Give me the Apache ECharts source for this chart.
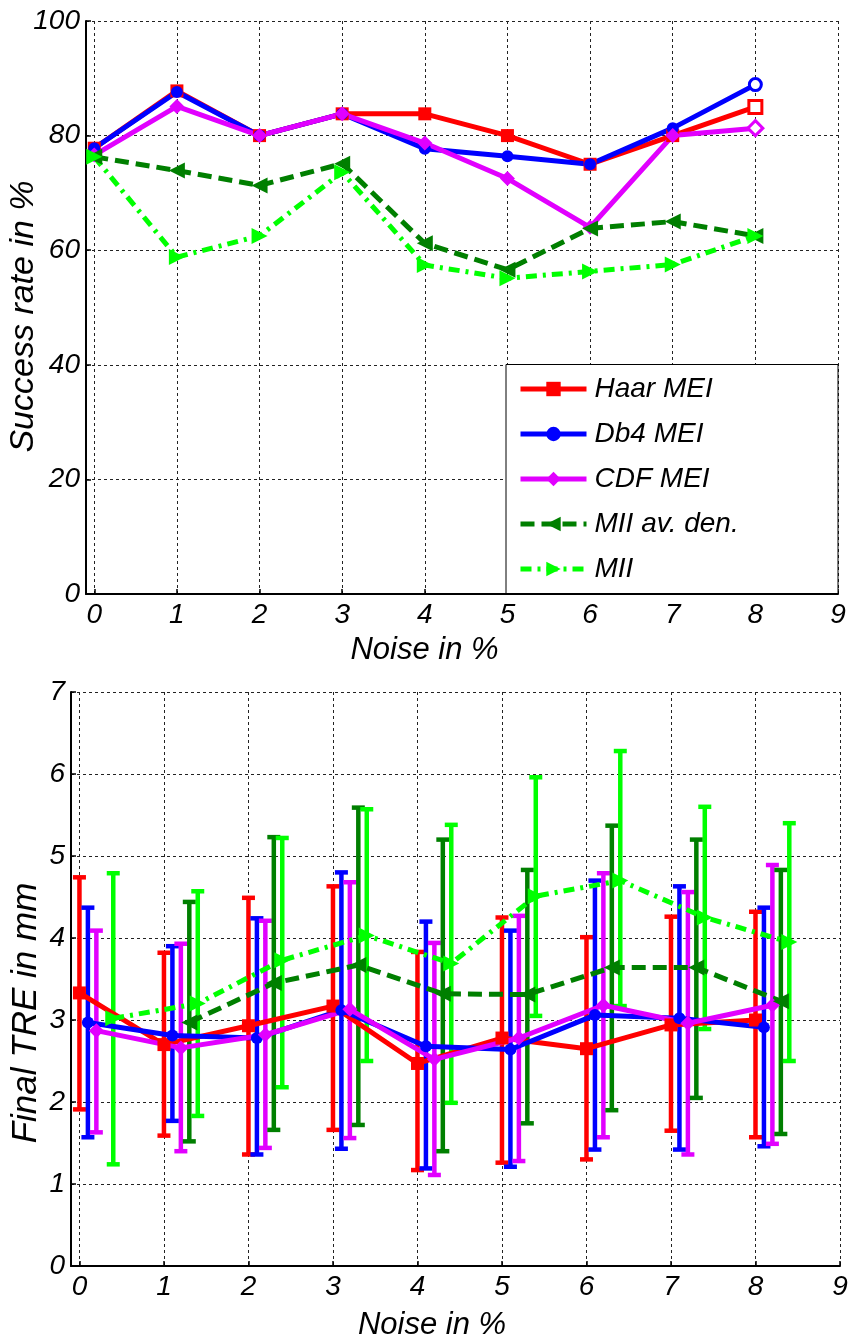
<!DOCTYPE html>
<html>
<head>
<meta charset="utf-8">
<script src="https://cdn.jsdelivr.net/npm/echarts@6/dist/echarts.min.js"></script>
<style>
  html, body { margin: 0; padding: 0; background: #fff; }
  #chart { width: 850px; height: 1342px; }
</style>
</head>
<body>
<div id="chart"></div>
<script>
// Noise levels (%) and axis tick values
const noiseLevels = [0, 1, 2, 3, 4, 5, 6, 7, 8];
const xTickValues = [0, 1, 2, 3, 4, 5, 6, 7, 8, 9];
const seriesNames = ['Haar MEI', 'Db4 MEI', 'CDF MEI', 'MII av. den.', 'MII'];

// Success rate in % per noise level
const haarSuccess   = [77.8, 87.8, 80.0, 83.8, 83.8, 80.0, 75.0, 80.0, 85.0];
const db4Success    = [77.8, 87.6, 80.0, 83.8, 77.7, 76.4, 75.0, 81.3, 88.9];
const cdfSuccess    = [76.6, 85.1, 80.0, 83.8, 78.7, 72.5, 64.0, 80.0, 81.3];
const miiDenSuccess = [76.3, 73.9, 71.3, 75.1, 61.2, 56.6, 63.8, 65.0, 62.5];
const miiSuccess    = [76.3, 58.8, 62.5, 73.6, 57.4, 55.1, 56.3, 57.5, 62.5];

// Final TRE in mm: mean, lower and upper error-bar ends
const haarTre    = [3.33, 2.70, 2.93, 3.17, 2.47, 2.78, 2.65, 2.94, 3.00];
const haarLow    = [1.91, 1.59, 1.36, 1.66, 1.17, 1.26, 1.30, 1.65, 1.57];
const haarHigh   = [4.74, 3.82, 4.49, 4.63, 3.83, 4.25, 4.01, 4.26, 4.32];

const db4Tre     = [2.97, 2.81, 2.78, 3.12, 2.68, 2.64, 3.06, 3.02, 2.91];
const db4Low     = [1.57, 1.77, 1.36, 1.43, 1.19, 1.21, 1.42, 1.42, 1.46];
const db4High    = [4.37, 3.90, 4.24, 4.80, 4.20, 4.09, 4.70, 4.63, 4.37];

const cdfTre     = [2.87, 2.66, 2.82, 3.13, 2.52, 2.78, 3.18, 2.96, 3.18];
const cdfLow     = [1.63, 1.40, 1.44, 1.56, 1.11, 1.28, 1.57, 1.36, 1.49];
const cdfHigh    = [4.09, 3.93, 4.21, 4.68, 3.94, 4.27, 4.79, 4.56, 4.89];

const miiDenTre  = [null, 2.97, 3.45, 3.67, 3.32, 3.31, 3.64, 3.64, 3.23];
const miiDenLow  = [null, 1.52, 1.66, 1.72, 1.40, 1.74, 1.90, 2.05, 1.61];
const miiDenHigh = [null, 4.44, 5.23, 5.59, 5.20, 4.83, 5.37, 5.20, 4.83];

const miiTre     = [3.02, 3.20, 3.73, 4.03, 3.69, 4.51, 4.70, 4.25, 3.95];
const miiLow     = [1.24, 1.83, 2.18, 2.50, 1.99, 3.05, 3.17, 2.89, 2.50];
const miiHigh    = [4.79, 4.57, 5.22, 5.57, 5.38, 5.96, 6.28, 5.60, 5.40];

const FONT = "'Liberation Sans', Arial, sans-serif";
const BLACK = '#000';

// Per-series look: colour, marker, line pattern, horizontal shift in the error-bar plot
const styles = [
  { color: '#ff0000', symbol: 'rect',     rotate: 0,   size: 13, dash: 'solid',        shift: 0.0, hollowLast: true },
  { color: '#0000ff', symbol: 'circle',   rotate: 0,   size: 12, dash: 'solid',        shift: 0.1, hollowLast: true },
  { color: '#e100ff', symbol: 'diamond',  rotate: 0,   size: 15, dash: 'solid',        shift: 0.2, hollowLast: true },
  { color: '#007f00', symbol: 'triangle', rotate: 90,  size: 16, dash: [14, 7],        shift: 0.3, hollowLast: false },
  { color: '#00ff00', symbol: 'triangle', rotate: -90, size: 16, dash: [11, 6, 3, 6],  shift: 0.4, hollowLast: false }
];

const successSets = [haarSuccess, db4Success, cdfSuccess, miiDenSuccess, miiSuccess];
const treSets = [
  [haarTre, haarLow, haarHigh],
  [db4Tre, db4Low, db4High],
  [cdfTre, cdfLow, cdfHigh],
  [miiDenTre, miiDenLow, miiDenHigh],
  [miiTre, miiLow, miiHigh]
];

function valueAxis(gridIndex, min, max, interval, name, nameGap, namePad, nameSize, isX) {
  const tickLabel = { color: BLACK, fontSize: 28, fontStyle: 'italic', fontFamily: FONT, margin: isX ? 7 : 6 };
  const axis = {
    type: 'value', gridIndex, min, max,
    axisLine: { show: true, onZero: false, lineStyle: { color: BLACK, width: 2 } },
    axisTick: { show: true, inside: true, length: 5, lineStyle: { color: BLACK, width: 1.5 } },
    axisLabel: tickLabel,
    splitLine: { show: true, lineStyle: { color: '#222', width: 1, type: [3, 3] } },
    name, nameLocation: 'middle', nameGap, nameMoveOverlap: false,
    nameTextStyle: { color: BLACK, fontSize: nameSize, fontStyle: 'italic', fontFamily: FONT, padding: namePad }
  };
  if (isX) {
    axis.axisTick.customValues = xTickValues;
    axis.axisLabel.customValues = xTickValues;
  } else {
    axis.interval = interval;
  }
  return axis;
}

const series = [];

// Upper plot: success rate lines
successSets.forEach((vals, k) => {
  const s = styles[k];
  series.push({
    name: seriesNames[k], type: 'line', xAxisIndex: 0, yAxisIndex: 0,
    data: vals.map((v, i) => {
      const item = { value: [noiseLevels[i], v] };
      if (s.hollowLast && i === vals.length - 1) {
        item.itemStyle = { color: '#fff', borderColor: s.color, borderWidth: 3 };
      }
      return item;
    }),
    symbol: s.symbol, symbolSize: s.size, symbolRotate: s.rotate, showAllSymbol: true,
    lineStyle: { color: s.color, width: 5, type: s.dash, cap: 'butt' },
    itemStyle: { color: s.color, borderWidth: 0 },
    emphasis: { disabled: true }, animation: false
  });
});

// Lower plot: error bars + mean lines, drawn series by series
treSets.forEach(([mean, low, high], k) => {
  const s = styles[k];
  const barData = [];
  noiseLevels.forEach((x, i) => {
    if (mean[i] != null) barData.push([x + s.shift, low[i], high[i]]);
  });
  series.push({
    type: 'custom', xAxisIndex: 1, yAxisIndex: 1, data: barData,
    encode: { x: 0, y: [1, 2] }, silent: true, animation: false,
    renderItem(params, api) {
      const x = api.value(0);
      const lo = api.coord([x, api.value(1)]);
      const hi = api.coord([x, api.value(2)]);
      const hw = 6.5;
      const st = { stroke: s.color, lineWidth: 4.5 };
      return {
        type: 'group',
        children: [
          { type: 'line', shape: { x1: lo[0], y1: lo[1], x2: hi[0], y2: hi[1] }, style: st },
          { type: 'line', shape: { x1: hi[0] - hw, y1: hi[1], x2: hi[0] + hw, y2: hi[1] }, style: st },
          { type: 'line', shape: { x1: lo[0] - hw, y1: lo[1], x2: lo[0] + hw, y2: lo[1] }, style: st }
        ]
      };
    }
  });
  series.push({
    name: seriesNames[k] + ' TRE', type: 'line', xAxisIndex: 1, yAxisIndex: 1,
    data: noiseLevels.map((x, i) => mean[i] == null ? [x + s.shift, null] : [x + s.shift, mean[i]]),
    connectNulls: false,
    symbol: s.symbol, symbolSize: s.size, symbolRotate: s.rotate, showAllSymbol: true,
    lineStyle: { color: s.color, width: 5, type: s.dash, cap: 'butt' },
    itemStyle: { color: s.color, borderWidth: 0 },
    emphasis: { disabled: true }, animation: false
  });
});

const option = {
  backgroundColor: '#fff',
  animation: false,
  grid: [
    { left: 86, right: 12, top: 21, height: 573, containLabel: false, outerBoundsMode: 'none' },
    { left: 71, right: 10, top: 692, height: 574, containLabel: false, outerBoundsMode: 'none' }
  ],
  xAxis: [
    valueAxis(0, -0.1, 9, 1, 'Noise in %', 41, [0, 75, 0, 0], 31, true),
    valueAxis(1, -0.1, 9, 1, 'Noise in %', 44, [0, 47, 0, 0], 31, true)
  ],
  yAxis: [
    valueAxis(0, 0, 100, 20, 'Success rate in %', 45, [0, 18, 0, 0], 34, false),
    valueAxis(1, 0, 7, 1, 'Final TRE in mm', 27, [0, 68, 0, 0], 35, false)
  ],
  legend: {
    data: seriesNames,
    orient: 'vertical',
    left: 506, top: 364,
    padding: [8, 12, 8, 12],
    itemWidth: 66, itemHeight: 18, itemGap: 11,
    lineStyle: { width: 5 },
    textStyle: { color: BLACK, fontSize: 28, fontStyle: 'italic', fontFamily: FONT, lineHeight: 34, padding: [0, 0, 0, 3] },
    selectedMode: false,
    z: 5
  },
  graphic: [{
    type: 'rect', z: 3,
    shape: { x: 506, y: 364.5, width: 332, height: 229 },
    style: { fill: '#fff', stroke: BLACK, lineWidth: 1 }
  }],
  series
};

const chart = echarts.init(document.getElementById('chart'), null, { renderer: 'canvas' });
chart.setOption(option);
</script>
</body>
</html>
